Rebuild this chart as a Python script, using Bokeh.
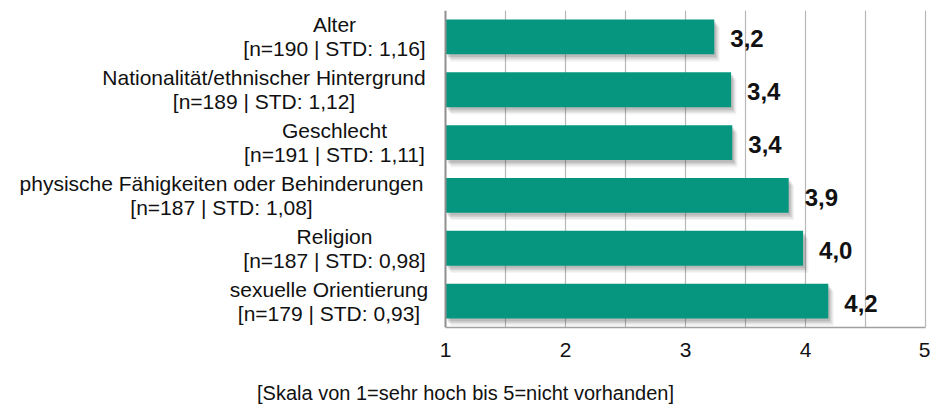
from bokeh.plotting import figure
from bokeh.models import ColumnDataSource, Range1d, FixedTicker, Span
from bokeh.embed import file_html
from bokeh.resources import INLINE
from bokeh.core.properties import value
from bokeh.transform import dodge

# ---- data ----
categories = [
    "Alter",
    "Nationalität/ethnischer Hintergrund",
    "Geschlecht",
    "physische Fähigkeiten oder Behinderungen",
    "Religion",
    "sexuelle Orientierung",
]
details = [
    "[n=190 | STD: 1,16]",
    "[n=189 | STD: 1,12]",
    "[n=191 | STD: 1,11]",
    "[n=187 | STD: 1,08]",
    "[n=187 | STD: 0,98]",
    "[n=179 | STD: 0,93]",
]
means = [3.24, 3.38, 3.39, 3.86, 3.98, 4.19]
x_ticks = [1, 2, 3, 4, 5]
grid_ticks = [1.5, 2, 2.5, 3, 3.5, 4, 4.5, 5]
axis_title = "[Skala von 1=sehr hoch bis 5=nicht vorhanden]"

# ---- layout / style ----
W, H = 930, 406
FRAME_LEFT_PX = 445      # where scale value 1 sits
PX_PER_UNIT = 120
label_center_offsets = [-111, -181.5, -111, -224, -111, -116.5]  # px from value 1
FONT = "Liberation Sans"
BAR = "#06967f"
TXT = "#111111"

n = len(categories)
pos = [i + 0.5 for i in range(n)]
labels_fmt = [f"{v:.1f}".replace(".", ",") for v in means]

src = ColumnDataSource(dict(y=pos, right=means, lbl=labels_fmt))
cat_src = ColumnDataSource(dict(y=pos, cat=categories, det=details, off=label_center_offsets))

x_lo = x_ticks[0] - FRAME_LEFT_PX / PX_PER_UNIT
x_hi = x_ticks[0] + (W - FRAME_LEFT_PX) / PX_PER_UNIT

p = figure(width=W, height=H, output_backend="svg", toolbar_location=None,
           x_range=Range1d(x_lo, x_hi), y_range=Range1d(n, 0),
           min_border_left=0, min_border_right=0, min_border_top=10, min_border_bottom=78)
p.outline_line_color = None
p.yaxis.visible = False

# grid
p.xgrid.ticker = FixedTicker(ticks=grid_ticks)
p.xgrid.grid_line_color = "#b8b8b8"
p.xgrid.grid_line_width = 1.2
p.ygrid.grid_line_color = None

# x axis
p.xaxis.ticker = FixedTicker(ticks=x_ticks)
p.xaxis.bounds = (x_ticks[0], x_ticks[-1])
p.xaxis.axis_line_color = "#a0a0a0"
p.xaxis.axis_line_width = 1.5
p.xaxis.major_tick_line_color = None
p.xaxis.minor_tick_line_color = None
p.xaxis.major_label_text_font = FONT
p.xaxis.major_label_text_font_size = "21px"
p.xaxis.major_label_text_color = TXT
p.xaxis.major_label_standoff = 9
p.xaxis.axis_label = axis_title
p.xaxis.axis_label_text_font = FONT
p.xaxis.axis_label_text_font_size = "20px"
p.xaxis.axis_label_text_font_style = "normal"
p.xaxis.axis_label_text_color = TXT
p.xaxis.axis_label_standoff = 22

# left value-axis line at scale value 1
p.add_layout(Span(location=x_ticks[0], dimension="height", line_color="#8f8f8f", line_width=2))

# shadows (soft, several layers)
for dx, dy, a in [(0.045, 0.14, 0.06), (0.035, 0.11, 0.09), (0.025, 0.08, 0.12), (0.015, 0.05, 0.15)]:
    p.hbar(y=dodge("y", dy, range=p.y_range), left=x_ticks[0] + dx,
           right=dodge("right", dx, range=p.x_range),
           height=0.66, source=src, fill_color="#404040", fill_alpha=a, line_color=None)

# bars
p.hbar(y="y", left=x_ticks[0], right="right", height=0.66, source=src,
       fill_color=BAR, line_color=None)

# value labels
p.text(x="right", y="y", text="lbl", source=src, x_offset=16, y_offset=2,
       text_font=value(FONT), text_font_style="bold", text_font_size="24px",
       text_color=TXT, text_align="left", text_baseline="middle")

# category labels (two centred lines each)
p.text(x=x_ticks[0], y="y", text="cat", source=cat_src, x_offset="off", y_offset=-12,
       text_font=value(FONT), text_font_size="21px", text_color=TXT,
       text_align="center", text_baseline="middle")
p.text(x=x_ticks[0], y="y", text="det", source=cat_src, x_offset="off", y_offset=12,
       text_font=value(FONT), text_font_size="21px", text_color=TXT,
       text_align="center", text_baseline="middle")

open("out.html", "w").write(file_html(p, INLINE))
